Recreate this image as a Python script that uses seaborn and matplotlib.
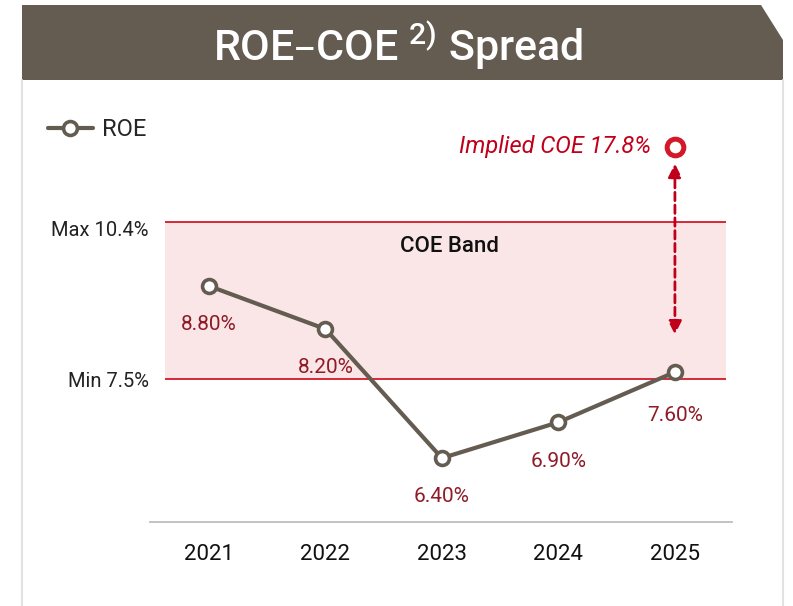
import matplotlib.pyplot as plt
import matplotlib.transforms as mtransforms
import numpy as np
import pandas as pd
import seaborn as sns
from matplotlib.lines import Line2D
from matplotlib.patches import Polygon

# data
years = ["2021", "2022", "2023", "2024", "2025"]
roe = [8.8, 8.2, 6.4, 6.9, 7.6]
roe_labels = ["8.80%", "8.20%", "6.40%", "6.90%", "7.60%"]
coe_min = 7.5
coe_max = 10.4
implied_coe = 17.8

BROWN = "#655c51"
RED = "#d2192a"
DARK_RED = "#8e1b27"
W, H = 793, 606

sns.set_style("white")
plt.rcParams["font.family"] = ["Roboto", "DejaVu Sans"]

df = pd.DataFrame({"pos": np.arange(len(years)), "roe": roe})

fig = plt.figure(figsize=(W / 100, H / 100), dpi=100)
fig.patch.set_facecolor("white")

# header banner with clipped corner + panel border
pts = [(22, 5), (761, 5), (783, 40), (783, 80), (22, 80)]
fig.add_artist(Polygon([(x / W, 1 - y / H) for x, y in pts], closed=True,
                       transform=fig.transFigure, facecolor=BROWN, edgecolor="none"))
for xb in (22, 783):
    fig.add_artist(Line2D([xb / W, xb / W], [0, 1 - 80 / H], transform=fig.transFigure,
                          color="#e2e2e2", lw=1.5))
fig.text(398 / W, 1 - 45 / H, r"ROE–COE $\mathregular{^{2)}}$ Spread", color="white",
         fontsize=31, fontweight="medium", ha="center", va="center")

ax = fig.add_axes([150 / W, 84 / H, 582 / W, 422 / H])

# the reference y axis is compressed above the data range
real_bp = np.array([-50, 8.8, 10.4, 17.8, 60])
disp_bp = np.array([-50, 8.8, 9.693, 10.739, 16.71])
ax.set_yscale("function", functions=(lambda v: np.interp(v, real_bp, disp_bp),
                                     lambda d: np.interp(d, disp_bp, real_bp)))
ax.set_xlim(-0.506, 4.49)
ax.set_ylim(5.509, 22.43)

band_x = [-0.378, 4.438]
ax.fill_between(band_x, coe_min, coe_max, color="#fbe6e7", lw=0, zorder=0)
ax.hlines([coe_min, coe_max], band_x[0], band_x[1], color=RED, lw=1.3, zorder=1)
ax.annotate("COE Band", xy=(sum(band_x) / 2, coe_max), xytext=(3, -18), textcoords="offset points",
            ha="center", va="center", fontsize=16, fontweight="medium", color="#111111")

sns.lineplot(data=df, x="pos", y="roe", color=BROWN, lw=3, marker="o", ms=10,
             markerfacecolor="white", markeredgecolor=BROWN, markeredgewidth=2.6,
             label="ROE", ax=ax, zorder=3)

for x, y, lab in zip(df["pos"], roe, roe_labels):
    ax.annotate(lab, xy=(x, y), xytext=(0, -28 if lab != "7.60%" else -31), textcoords="offset points",
                ha="center", va="center", fontsize=15, color=DARK_RED)

# implied COE marker + arrow down to latest ROE
last = len(years) - 1
ax.plot([last], [implied_coe], marker="o", ms=12, mfc="white", mec=RED, mew=3.6,
        ls="none", zorder=4)
ax.annotate("Implied COE 17.8%", xy=(last, implied_coe), xytext=(-17, 0), textcoords="offset points",
            ha="right", va="center", fontsize=17, style="italic", color="#c0001a")
ax.annotate("", xy=(last, roe[-1]), xytext=(last, implied_coe),
            arrowprops=dict(arrowstyle="<|-|>,head_length=0.8,head_width=0.4", color="#c0001a",
                            lw=2, linestyle=(0, (3, 1.6)), shrinkA=12, shrinkB=27))

ax.set_xticks(df["pos"], years)
ax.set_yticks([coe_min, coe_max], ["Min 7.5%", "Max 10.4%"])
ax.tick_params(axis="x", length=0, pad=16, labelsize=16, labelcolor="#111111")
ax.tick_params(axis="y", length=0, pad=1, labelsize=14.5, labelcolor="#222222")
# the Max label sits a little below its line in the reference
shift = mtransforms.ScaledTranslation(0, -7 / 100, fig.dpi_scale_trans)
ax.get_yticklabels()[1].set_transform(ax.get_yticklabels()[1].get_transform() + shift)
ax.set_xlabel("")
ax.set_ylabel("")
for side in ("top", "right", "left"):
    ax.spines[side].set_visible(False)
ax.spines["bottom"].set_color("#bdbdbd")
ax.spines["bottom"].set_linewidth(1.3)
ax.set_facecolor("none")

ax.legend(loc="center left", bbox_to_anchor=(48 / W, 1 - 130 / H), bbox_transform=fig.transFigure,
          frameon=False, fontsize=17, handlelength=1.9, handletextpad=0.4, borderpad=0,
          borderaxespad=0)

fig.savefig("out.png", dpi=100, facecolor="white")
